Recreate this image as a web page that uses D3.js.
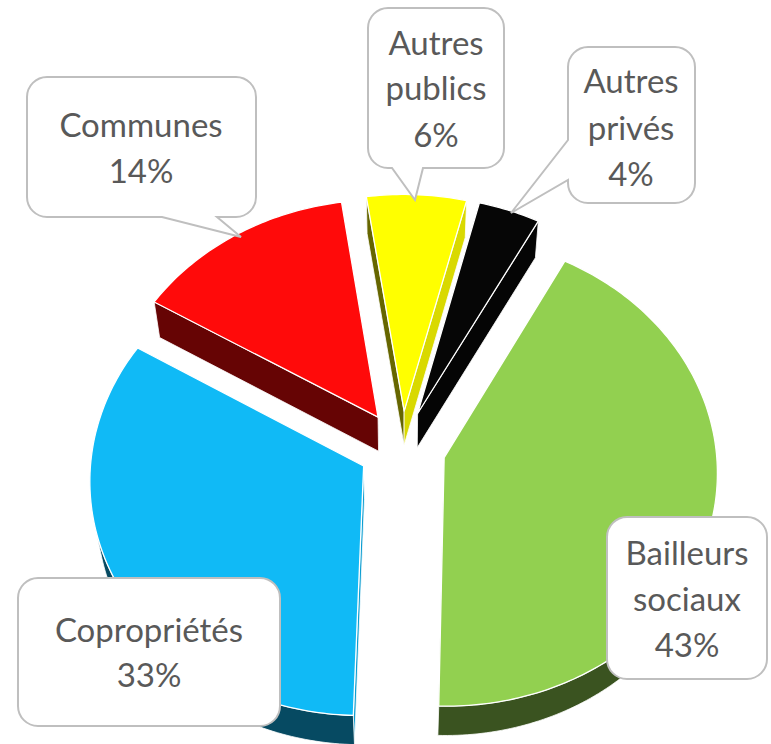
<!DOCTYPE html>
<html><head><meta charset="utf-8">
<script src="https://cdn.jsdelivr.net/npm/d3@7"></script>
<style>body{margin:0;background:#fff}</style>
</head><body>
<svg id="c" width="771" height="744"></svg>
<script>
// ---- data ----
const categories = ["Autres publics", "Autres privés", "Bailleurs sociaux", "Copropriétés", "Communes"];
const values = [6.3, 3.9, 42.6, 33.2, 14.0];
const topColors = ["#FFFF00", "#060606", "#92D050", "#10BAF6", "#FF0A0A"];

// ---- layout / style ----
const W = 771, H = 744;
const cam = { phi: 59 * Math.PI / 180, D: 9, F: 2448, cx: 402, cy: 448 };
const explode = 0.16, thick = 0.245;
const startDeg = -8.5;
const labelLayout = [
  { box: [368, 8, 136, 160], tail: { side: "bottom", p0: 392, p1: 423, tip: [415, 200] }, cx: 436, base: [55, 100, 147] },
  { box: [568, 47, 127, 156], tail: { side: "left", p0: 140, p1: 180, tip: [511, 213] }, cx: 631, base: [93, 140, 186] },
  { box: [607, 517, 160, 162], tail: null, cx: 687, base: [565, 611, 657] },
  { box: [18, 578, 262, 148], tail: null, cx: 149, base: [642, 687] },
  { box: [27, 77, 229, 140], tail: { side: "bottom", p0: 162, p1: 217, tip: [241, 237] }, cx: 141, base: [137, 183] }
];

const svg = d3.select("#c");
const sP = Math.sin(cam.phi), cP = Math.cos(cam.phi);
const camPos = [0, -cam.D * cP, cam.D * sP];
function project(X, Y, Z) {
  const yc = Y * sP + Z * cP;
  const zc = Y * cP - Z * sP + cam.D;
  return [cam.cx + cam.F * X / zc, cam.cy - cam.F * yc / zc];
}
function facing(n, p) {
  return n[0] * (camPos[0] - p[0]) + n[1] * (camPos[1] - p[1]) + n[2] * (camPos[2] - p[2]) > 0;
}
function shade(col, k) {
  const c = d3.rgb(col);
  return d3.rgb(c.r * k, c.g * k, c.b * k).formatHex();
}
const line = d3.line();

const rad = d => d * Math.PI / 180;
const pie = d3.pie().sort(null).value(d => d)
  .startAngle(rad(startDeg)).endAngle(rad(startDeg + 360));
const arcs = pie(values).map((a, i) => {
  const mid = (a.startAngle + a.endAngle) / 2;
  const ox = explode * Math.sin(mid), oy = explode * Math.cos(mid);
  const depth = (oy + 0.5 * Math.cos(mid)) * cP + cam.D;
  return { i, a0: a.startAngle, a1: a.endAngle, mid, ox, oy, depth };
});
arcs.sort((a, b) => b.depth - a.depth);

const gPie = svg.append("g");
arcs.forEach(s => {
  const col = topColors[s.i];
  const g = gPie.append("g");
  const n = Math.max(6, Math.ceil((s.a1 - s.a0) / rad(1)));
  const angs = d3.range(n + 1).map(k => s.a0 + (s.a1 - s.a0) * k / n);
  const rim = (a, z) => [s.ox + Math.sin(a), s.oy + Math.cos(a), z];
  const P = q => project(q[0], q[1], q[2]);
  const apexT = [s.ox, s.oy, 0], apexB = [s.ox, s.oy, -thick];

  const walls = [];
  [[s.a0, [-Math.cos(s.a0), Math.sin(s.a0), 0]], [s.a1, [Math.cos(s.a1), -Math.sin(s.a1), 0]]].forEach(([a, nrm]) => {
    const r0 = rim(a, 0), r1 = rim(a, -thick);
    const midp = [(s.ox + r0[0]) / 2, (s.oy + r0[1]) / 2, -thick / 2];
    if (facing(nrm, midp)) {
      const k = nrm[0] > 0.3 ? 0.85 : 0.4;
      walls.push({ pts: [apexT, r0, r1, apexB].map(P), fill: shade(col, k) });
    }
  });
  let run = [];
  const runs = [];
  for (let k = 0; k < n; k++) {
    const am = (angs[k] + angs[k + 1]) / 2;
    const vis = facing([Math.sin(am), Math.cos(am), 0], rim(am, -thick / 2));
    if (vis) { if (!run.length) run.push(k); run.push(k + 1); }
    else if (run.length) { runs.push(run); run = []; }
  }
  if (run.length) runs.push(run);
  runs.forEach(r => {
    const top = r.map(k => P(rim(angs[k], 0)));
    const bot = r.map(k => P(rim(angs[k], -thick))).reverse();
    walls.push({ pts: top.concat(bot), fill: shade(col, 0.4) });
  });
  walls.forEach(w => {
    g.append("path").attr("d", line(w.pts) + "Z")
      .attr("fill", w.fill).attr("stroke", "#ffffff").attr("stroke-width", 0.8)
      .attr("stroke-linejoin", "round");
  });
  const topPts = [P(apexT)].concat(angs.map(a => P(rim(a, 0))));
  g.append("path").attr("d", line(topPts) + "Z")
    .attr("fill", col).attr("stroke", "#ffffff").attr("stroke-width", 1.3)
    .attr("stroke-linejoin", "round");
});

// ---- callouts ----
function callout(x, y, w, h, r, tail) {
  const p = d3.path();
  p.moveTo(x + r, y);
  p.lineTo(x + w - r, y);
  p.arcTo(x + w, y, x + w, y + r, r);
  p.lineTo(x + w, y + h - r);
  p.arcTo(x + w, y + h, x + w - r, y + h, r);
  if (tail && tail.side === "bottom") {
    p.lineTo(tail.p1, y + h); p.lineTo(tail.tip[0], tail.tip[1]); p.lineTo(tail.p0, y + h);
  }
  p.lineTo(x + r, y + h);
  p.arcTo(x, y + h, x, y + h - r, r);
  if (tail && tail.side === "left") {
    p.lineTo(x, tail.p1); p.lineTo(tail.tip[0], tail.tip[1]); p.lineTo(x, tail.p0);
  }
  p.lineTo(x, y + r);
  p.arcTo(x, y, x + r, y, r);
  p.closePath();
  return p.toString();
}
const fmt = v => Math.round(v) + "%";
const gLab = svg.append("g");
categories.forEach((name, i) => {
  const L = labelLayout[i];
  const [x, y, w, h] = L.box;
  gLab.append("path").attr("d", callout(x, y, w, h, 20, L.tail))
    .attr("fill", "#ffffff").attr("stroke", "#BFBFBF").attr("stroke-width", 2);
  const lines = name.split(" ").concat([fmt(values[i])]);
  lines.forEach((t, j) => {
    gLab.append("text").attr("x", L.cx).attr("y", L.base[j])
      .attr("text-anchor", "middle")
      .attr("font-family", "Lato, 'Open Sans', sans-serif")
      .attr("font-size", 33).attr("fill", "#595959").text(t);
  });
});
</script>
</body></html>
